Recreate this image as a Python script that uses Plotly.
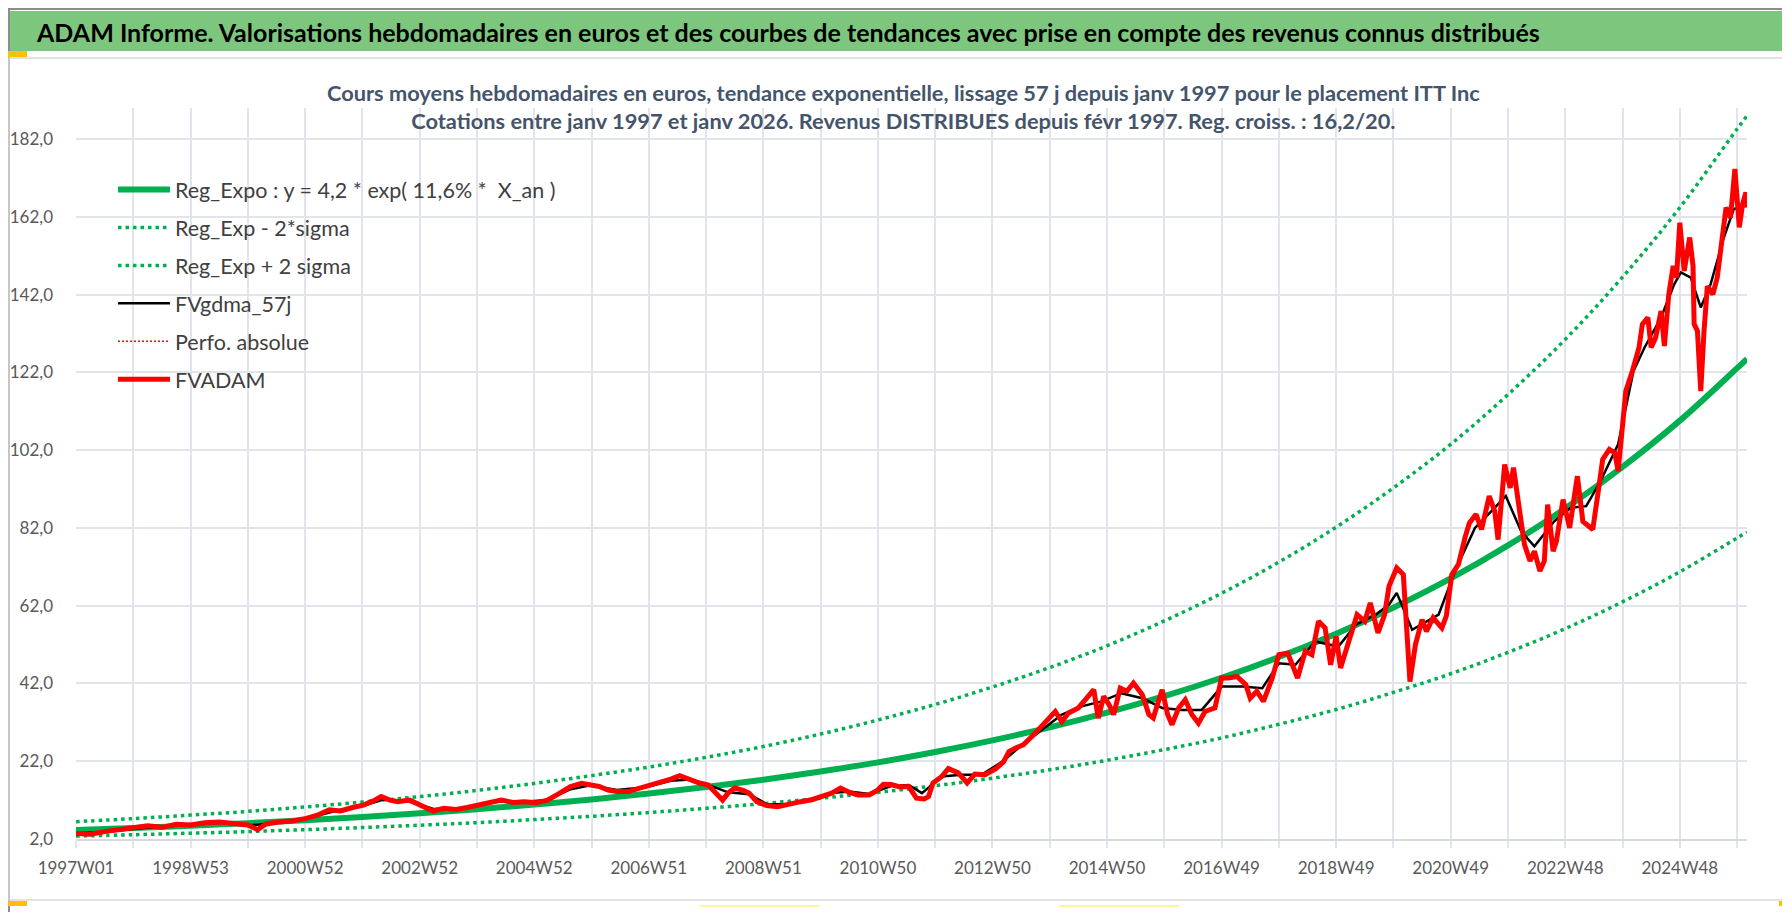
import plotly.graph_objects as go

# ---- values ----
# x positions are week numbers counted from 1997W01 (= 0)

tick_weeks = [0, 104, 208, 312, 416, 520, 624, 728, 832, 936, 1040, 1144, 1248, 1352, 1456]
tick_labels = ["1997W01", "1998W53", "2000W52", "2002W52", "2004W52", "2006W51", "2008W51",
               "2010W50", "2012W50", "2014W50", "2016W49", "2018W49", "2020W49", "2022W48", "2024W48"]
grid_weeks = [0, 52, 104, 156, 208, 260, 312, 364, 416, 468, 520, 572, 624, 676, 728, 780, 832,
              884, 936, 988, 1040, 1092, 1144, 1196, 1248, 1300, 1352, 1404, 1456, 1508]
y_ticks = [2, 22, 42, 62, 82, 102, 122, 142, 162, 182]

trend_week = [0, 52, 104, 156, 208, 260, 312, 364, 416, 468, 520, 572, 624, 676, 728, 780,
              832, 884, 936, 988, 1040, 1092, 1144, 1196, 1248, 1300, 1352, 1404, 1456, 1508, 1517]
reg_expo = [4.30, 4.83, 5.43, 6.08, 6.83, 7.67, 8.61, 9.66, 10.85, 12.18, 13.68, 15.35, 17.23,
            19.35, 21.71, 24.38, 27.37, 30.72, 34.49, 38.72, 43.47, 48.79, 54.77, 61.5, 69.0,
            77.5, 87.0, 97.7, 109.6, 123.1, 125.5]
reg_lower = [2.75, 3.1, 3.5, 3.9, 4.4, 4.95, 5.55, 6.2, 7.0, 7.85, 8.8, 9.9, 11.1, 12.5, 14.0,
             15.7, 17.65, 19.8, 22.25, 25.0, 28.0, 31.5, 35.3, 39.7, 44.5, 50.0, 56.1, 63.0,
             70.7, 79.4, 80.9]
reg_upper = [6.45, 7.25, 8.15, 9.1, 10.25, 11.5, 12.9, 14.5, 16.3, 18.3, 20.5, 23.0, 25.8, 29.0,
             32.6, 36.6, 41.1, 46.1, 51.7, 58.1, 65.2, 73.2, 82.2, 92.3, 103.5, 116.3, 130.5,
             146.5, 164.4, 184.6, 188.0]

fv_week = [0, 13, 26, 39, 52, 65, 78, 91, 104, 117, 130, 143, 156, 165, 172, 182, 195, 209, 220,
           230, 240, 251, 261, 270, 277, 285, 292, 303, 313, 324, 334, 345, 355, 366, 376, 386,
           397, 407, 418, 428, 438, 449, 459, 467, 475, 483, 491, 501, 509, 517, 525, 532, 540,
           548, 558, 566, 574, 580, 587, 592, 598, 605, 611, 618, 627, 637, 647, 658, 668, 678,
           686, 694, 702, 710, 720, 727, 733, 740, 748, 756, 763, 770, 774, 778, 786, 792, 801,
           809, 816, 825, 835, 842, 847, 853, 860, 868, 877, 882, 889, 895, 901, 910, 916, 924,
           928, 933, 938, 942, 948, 954, 960, 968, 974, 978, 986, 991, 995, 1001, 1007, 1013,
           1019, 1025, 1034, 1040, 1046, 1054, 1062, 1066, 1072, 1078, 1086, 1092, 1100, 1104,
           1109, 1116, 1122, 1128, 1134, 1139, 1144, 1148, 1156, 1163, 1170, 1175, 1182, 1188,
           1192, 1199, 1205, 1208, 1211, 1216, 1222, 1226, 1232, 1240, 1244, 1249, 1255, 1261,
           1265, 1271, 1276, 1283, 1288, 1291, 1297, 1302, 1305, 1311, 1315, 1320, 1324, 1329,
           1333, 1336, 1341, 1344, 1350, 1356, 1363, 1368, 1377, 1382, 1386, 1392, 1397, 1400,
           1403, 1407, 1413, 1419, 1422, 1427, 1430, 1434, 1439, 1442, 1446, 1450, 1453, 1456,
           1460, 1465, 1468, 1469, 1472, 1475, 1478, 1481, 1486, 1490, 1493, 1498, 1502, 1506,
           1510, 1513, 1516, 1517]
fv_adam = [3.4, 3.2, 3.9, 4.4, 4.6, 5.4, 5.0, 5.8, 5.6, 6.2, 6.4, 5.9, 5.6, 4.4, 5.8, 6.3, 6.6,
           7.3, 8.2, 9.5, 9.2, 10.1, 10.7, 11.8, 12.9, 12.0, 11.6, 12.0, 10.7, 9.2, 9.9, 9.6, 10.1,
           10.8, 11.6, 12.0, 11.4, 11.6, 11.3, 12.0, 13.6, 15.5, 16.3, 15.9, 15.5, 14.6, 14.2,
           14.2, 14.8, 15.5, 16.0, 16.8, 17.4, 18.3, 17.2, 16.4, 15.9, 14.0, 12.0, 13.8, 15.1,
           14.6, 13.8, 11.6, 10.6, 10.3, 11.0, 11.6, 12.1, 12.9, 13.8, 15.1, 14.0, 13.3, 13.3,
           14.4, 16.1, 16.0, 15.4, 15.5, 12.5, 12.3, 12.9, 16.4, 18.1, 20.1, 19.0, 16.4, 18.7,
           18.5, 20.1, 21.8, 24.5, 25.4, 26.2, 28.4, 31.0, 32.7, 34.8, 32.2, 34.4, 35.7, 37.8,
           40.4, 33.1, 38.7, 36.5, 34.0, 40.8, 40.0, 42.1, 39.1, 34.0, 33.1, 40.4, 34.0, 31.4,
           35.7, 37.8, 34.0, 31.8, 34.8, 35.7, 43.4, 43.4, 43.8, 41.7, 38.2, 40.0, 37.4, 43.4,
           49.4, 49.8, 46.8, 43.4, 50.3, 49.4, 58.0, 56.3, 46.8, 54.1, 46.0, 52.8, 59.7, 58.0,
           62.7, 55.0, 59.7, 67.0, 71.7, 70.0, 58.0, 42.5, 52.0, 58.4, 55.4, 58.9, 56.3, 59.3,
           70.0, 72.6, 79.5, 83.3, 85.5, 81.6, 90.2, 86.3, 79.0, 98.3, 92.3, 97.5, 85.5, 77.7,
           73.5, 76.0, 70.9, 73.5, 88.0, 76.0, 78.6, 89.3, 82.0, 95.3, 83.7, 81.6, 91.5, 99.6,
           102.2, 101.3, 96.6, 106.9, 117.2, 122.4, 128.4, 134.4, 136.1, 128.4, 130.9, 137.8,
           128.8, 142.1, 149.4, 146.4, 160.5, 148.1, 156.7, 149.4, 134.4, 132.7, 117.2, 132.7,
           144.2, 142.1, 146.4, 153.2, 164.4, 161.8, 174.3, 159.3, 165.3, 168.3, 164.4]

gdma_week = [0, 26, 52, 78, 104, 130, 156, 182, 209, 235, 261, 280, 300, 324, 345, 366, 386,
             407, 428, 449, 467, 491, 517, 540, 558, 574, 592, 611, 627, 647, 668, 686, 702,
             720, 740, 756, 768, 786, 804, 822, 841, 859, 877, 895, 913, 931, 949, 968, 986,
             1004, 1022, 1040, 1059, 1077, 1092, 1107, 1125, 1146, 1162, 1180, 1192, 1199,
             1213, 1237, 1252, 1270, 1285, 1298, 1312, 1324, 1342, 1357, 1371, 1384, 1400,
             1414, 1424, 1439, 1451, 1457, 1466, 1475, 1484, 1496, 1505, 1517]
fv_gdma = [3.5, 3.8, 4.6, 5.2, 5.6, 6.2, 5.5, 6.1, 7.2, 9.2, 10.6, 12.2, 11.8, 9.8, 9.7, 10.7,
           11.7, 11.6, 12.0, 14.8, 15.8, 14.6, 15.3, 17.0, 17.3, 15.9, 14.0, 13.5, 11.0, 10.9,
           12.0, 13.8, 14.2, 13.6, 15.6, 15.9, 13.8, 18.1, 18.5, 18.5, 21.9, 26.2, 30.1, 34.0,
           36.1, 37.4, 39.5, 38.2, 35.7, 35.2, 35.2, 41.2, 41.2, 40.8, 47.2, 46.8, 52.8, 51.5,
           57.1, 59.7, 62.3, 65.3, 55.8, 59.7, 70.9, 82.0, 86.3, 90.2, 81.1, 77.3, 83.7, 87.2,
           87.6, 94.0, 103.5, 122.4, 128.4, 136.1, 144.7, 147.7, 146.4, 138.7, 144.7, 156.7,
           164.0, 165.3]

# ---- page geometry (pixels of the 1790 x 912 picture) ----
FIG_W, FIG_H = 1790, 912
L, R, T, B = 68, 51, 100, 81
PW, PH = FIG_W - L - R, FIG_H - T - B
FONT = "Lato, Liberation Sans, sans-serif"


def fx(px):
    return (px - L) / PW


def fy(py):
    return (FIG_H - B - py) / PH


def rect(x0, y0, x1, y1, **kw):
    return dict(type="rect", xref="paper", yref="paper",
                x0=fx(x0), x1=fx(x1), y0=fy(y0), y1=fy(y1), **kw)


fig = go.Figure()

green = "#00B050"
fig.add_trace(go.Scatter(x=trend_week, y=reg_expo, mode="lines", line_shape="spline",
                         name="Reg_Expo : y = 4,2 * exp( 11,6% *  X_an )",
                         line=dict(color=green, width=6), legendgroup="a"))
fig.add_trace(go.Scatter(x=trend_week, y=reg_lower, mode="lines", line_shape="spline",
                         name="Reg_Exp - 2*sigma",
                         line=dict(color=green, width=3.5, dash="3.5px,4px"), legendgroup="b"))
fig.add_trace(go.Scatter(x=trend_week, y=reg_upper, mode="lines", line_shape="spline",
                         name="Reg_Exp + 2 sigma",
                         line=dict(color=green, width=3.5, dash="3.5px,4px"), legendgroup="c"))
fig.add_trace(go.Scatter(x=gdma_week, y=fv_gdma, mode="lines", name="FVgdma_57j",
                         line=dict(color="black", width=2.5), legendgroup="d"))
fig.add_trace(go.Scatter(x=[None], y=[None], mode="lines", name="Perfo. absolue",
                         line=dict(color="#FF0000", width=1.5, dash="2px,2px"), legendgroup="e"))
fig.add_trace(go.Scatter(x=fv_week, y=fv_adam, mode="lines", name="FVADAM",
                         line=dict(color="#FF0000", width=5), legendgroup="f"))

shapes = [
    rect(1, 1, 1789, 911, line=dict(color="#8C8C8C", width=2), layer="below"),
    rect(1, 50, 1784, 892, line=dict(color="#D9D9D9", width=1.5), layer="below"),
    rect(2, 3, 1788, 43, fillcolor="#7DC67E", line=dict(width=0), layer="below"),
    rect(0, 43, 19, 49, fillcolor="#FFC000", line=dict(width=0)),
    rect(1781, 43, 1789, 57, fillcolor="#FFC000", line=dict(width=0)),
    rect(0, 893, 19, 898, fillcolor="#FFC000", line=dict(width=0)),
    rect(1781, 863, 1788, 898, fillcolor="#FFC000", line=dict(width=0)),
    rect(1771, 893, 1788, 898, fillcolor="#FFC000", line=dict(width=0)),
    rect(692, 897, 811, 899, fillcolor="#FFF59D", line=dict(width=0)),
    rect(1051, 897, 1171, 899, fillcolor="#FFF59D", line=dict(width=0)),
]

annotations = [
    dict(text="ADAM Informe. Valorisations hebdomadaires en euros et des courbes de tendances "
              "avec prise en compte des revenus connus distribués",
         xref="paper", yref="paper", x=fx(26), y=fy(24), xanchor="left", yanchor="middle",
         showarrow=False, font=dict(family=FONT, size=25, color="black", weight="bold")),
    dict(text="Cours moyens hebdomadaires en euros, tendance exponentielle, lissage 57 j depuis "
              "janv 1997 pour le placement ITT Inc<br>"
              "Cotations entre janv 1997 et janv 2026. Revenus DISTRIBUES depuis févr 1997. "
              "Reg. croiss. : 16,2/20.",
         xref="paper", yref="paper", x=fx(895), y=fy(99), xanchor="center", yanchor="middle",
         align="center", showarrow=False,
         font=dict(family=FONT, size=21.8, color="#44546A", weight="bold")),
]

grid_text = [tick_labels[tick_weeks.index(w)] if w in tick_weeks else "" for w in grid_weeks]

fig.update_layout(
    width=FIG_W, height=FIG_H,
    margin=dict(l=L, r=R, t=T, b=B),
    paper_bgcolor="white", plot_bgcolor="white",
    separators=", ",
    showlegend=True,
    legend=dict(x=fx(105), y=fy(161), xanchor="left", yanchor="top",
                font=dict(family=FONT, size=21.5, color="#404040"),
                bgcolor="rgba(0,0,0,0)", itemwidth=52,
                traceorder="grouped", tracegroupgap=7),
    xaxis=dict(range=[0, 1517], tickmode="array", tickvals=grid_weeks, ticktext=grid_text,
               showgrid=True, gridcolor="#E1E4EA", gridwidth=1.5,
               showline=True, linecolor="#D6D9DE", linewidth=2,
               ticks="outside", ticklen=7, tickwidth=1.5, tickcolor="#E1E4EA",
               ticklabelstandoff=6, zeroline=False, automargin=False,
               tickfont=dict(family=FONT, size=17, color="#595959")),
    yaxis=dict(range=[2, 190], tickmode="array", tickvals=y_ticks, tickformat=".1f",
               showgrid=True, gridcolor="#E1E4EA", gridwidth=1.5,
               zeroline=False, showline=False, ticks="", ticklabelstandoff=22,
               automargin=False,
               tickfont=dict(family=FONT, size=17, color="#595959")),
    shapes=shapes,
    annotations=annotations,
)

fig.write_html("out.html")
